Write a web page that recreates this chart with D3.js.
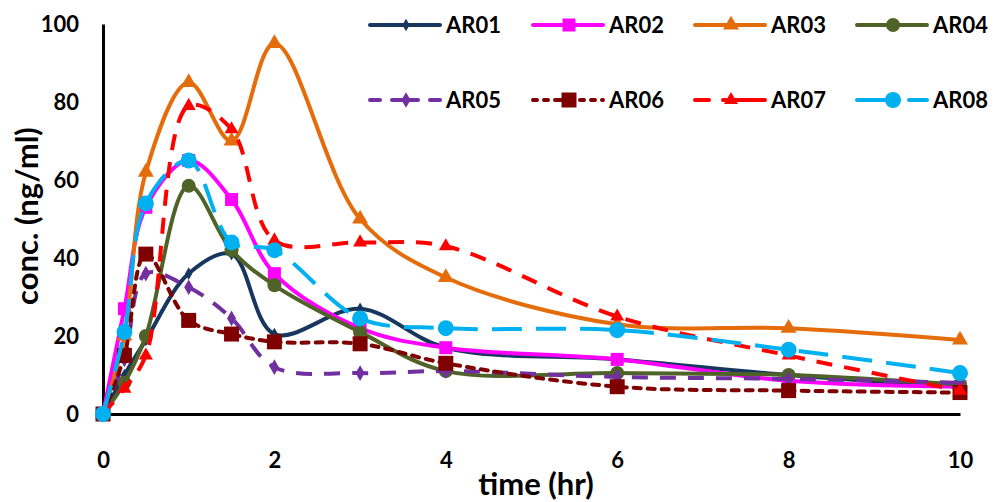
<!DOCTYPE html>
<html>
<head>
<meta charset="utf-8">
<script src="https://cdn.jsdelivr.net/npm/d3@7"></script>
<style>
  body { margin: 0; background: #fff; }
  svg text { font-family: Lato, "Open Sans", sans-serif; font-weight: bold; fill: #000; }
</style>
</head>
<body>
<div id="chart"></div>
<script>
// sampling times (hr)
const times = [0, 0.25, 0.5, 1, 1.5, 2, 3, 4, 6, 8, 10];

// concentrations (ng/ml)
const ar01 = [0, 10, 19, 36, 41, 20.5, 27, 17, 14, 10, 7];
const ar02 = [0, 27, 53, 65, 55, 36, 22, 17, 14, 8.5, 7];
const ar03 = [0, 20, 62, 85, 70, 95, 50, 35, 23, 22, 19];
const ar04 = [0, 8, 20, 58.5, 42, 33, 21, 11, 10.5, 10, 7.5];
const ar05 = [0, 14, 36, 32.5, 24.5, 12, 10.5, 11, 9.5, 9, 8];
const ar06 = [0, 15, 41, 24, 20.5, 18.5, 18, 13, 7, 6, 5.5];
const ar07 = [0, 6.5, 15, 79, 73, 44.5, 44, 43, 25, 15, 6];
const ar08 = [0, 21, 54, 65, 44, 42, 24.5, 22, 21.5, 16.5, 10.5];

const names = ['AR01', 'AR02', 'AR03', 'AR04', 'AR05', 'AR06', 'AR07', 'AR08'];
const xTicks = [0, 2, 4, 6, 8, 10];
const yTicks = [0, 20, 40, 60, 80, 100];

const series = [
  { name: 'AR01', values: ar01, color: '#17375E', marker: 'diamond', size: 12, dash: null, legDash: null },
  { name: 'AR02', values: ar02, color: '#FF00FF', marker: 'square', size: 13, dash: null, legDash: null },
  { name: 'AR03', values: ar03, color: '#E46C0A', marker: 'triangle', size: 16, dash: null, legDash: null },
  { name: 'AR04', values: ar04, color: '#4F6228', marker: 'circle', size: 14, dash: null, legDash: null },
  { name: 'AR05', values: ar05, color: '#7030A0', marker: 'diamond', size: 15, dash: '16,12', legDash: '10,12,26,12,10' },
  { name: 'AR06', values: ar06, color: '#7F0000', marker: 'square', size: 15, dash: '7,7', legDash: '4,7,4,7,18,7,4,7,4,7' },
  { name: 'AR07', values: ar07, color: '#FF0000', marker: 'triangle', size: 14, dash: '16,12', legDash: '14,14,42' },
  { name: 'AR08', values: ar08, color: '#00B0F0', marker: 'circle', size: 16, dash: '30,14', legDash: '40,12,18' }
];

const W = 996, H = 502;
const margin = { top: 24, right: 36, bottom: 88, left: 103 };
const width = W - margin.left - margin.right;
const height = H - margin.top - margin.bottom;

const svg = d3.select('#chart').append('svg')
  .attr('width', W)
  .attr('height', H);

const g = svg.append('g')
  .attr('transform', `translate(${margin.left},${margin.top})`);

const x = d3.scaleLinear().domain([0, 10]).range([0, width]);
const y = d3.scaleLinear().domain([0, 100]).range([height, 0]);

// axes (no tick marks, just labels)
const xAxis = g.append('g')
  .attr('transform', `translate(0,${height})`)
  .call(d3.axisBottom(x).tickValues(xTicks).tickSize(0).tickPadding(38));
xAxis.select('.domain').attr('stroke', '#000').attr('stroke-width', 3);
xAxis.selectAll('text').style('font-size', '22px');

const yAxis = g.append('g')
  .call(d3.axisLeft(y).tickValues(yTicks).tickSize(0).tickPadding(24));
yAxis.select('.domain').attr('stroke', '#000').attr('stroke-width', 3);
yAxis.selectAll('text').style('font-size', '22px');

// axis titles
svg.append('text')
  .attr('x', 536)
  .attr('y', 495)
  .attr('text-anchor', 'middle')
  .style('font-size', '31px')
  .text('time (hr)');

svg.append('text')
  .attr('transform', 'translate(38,216) rotate(-90)')
  .attr('text-anchor', 'middle')
  .style('font-size', '31px')
  .text('conc. (ng/ml)');

const symbolFor = m => ({
  diamond: d3.symbolDiamond,
  square: d3.symbolSquare,
  triangle: d3.symbolTriangle,
  circle: d3.symbolCircle
})[m];

// symbol area so that the marker's width is roughly `size` px
function symArea(m, s) {
  if (m === 'square') return s * s;
  if (m === 'circle') return Math.PI * (s / 2) * (s / 2);
  if (m === 'diamond') return s * s / (2 * Math.sqrt(3)) * 1.1;
  return s * s * Math.sqrt(3) / 4;
}

const line = d3.line()
  .x(d => x(d.t))
  .y(d => y(d.v))
  .curve(d3.curveCatmullRom.alpha(0.5));

series.forEach(s => {
  const pts = times.map((t, i) => ({ t, v: s.values[i] }));
  const sg = g.append('g').attr('class', 'series');

  sg.append('path')
    .datum(pts)
    .attr('fill', 'none')
    .attr('stroke', s.color)
    .attr('stroke-width', 4)
    .attr('stroke-linecap', s.dash === '7,7' ? 'round' : 'butt')
    .attr('stroke-dasharray', s.dash)
    .attr('d', line);

  sg.selectAll('path.mk')
    .data(pts)
    .enter()
    .append('path')
    .attr('class', 'mk')
    .attr('transform', d => `translate(${x(d.t)},${y(d.v)})`)
    .attr('d', d3.symbol().type(symbolFor(s.marker)).size(symArea(s.marker, s.size)))
    .attr('fill', s.color);
});

// legend: 4 columns x 2 rows
const legX = [370, 533, 695, 857];
const legY = [25, 100];
const legend = svg.append('g');
series.forEach((s, i) => {
  const lx = legX[i % 4];
  const ly = legY[Math.floor(i / 4)];
  const lg = legend.append('g').attr('transform', `translate(${lx},${ly})`);
  lg.append('line')
    .attr('x1', 0).attr('x2', 70)
    .attr('y1', 0).attr('y2', 0)
    .attr('stroke', s.color)
    .attr('stroke-width', 4)
    .attr('stroke-linecap', 'round')
    .attr('stroke-dasharray', s.legDash);
  lg.append('path')
    .attr('transform', 'translate(36,0)')
    .attr('d', d3.symbol().type(symbolFor(s.marker)).size(symArea(s.marker, s.size)))
    .attr('fill', s.color);
  lg.append('text')
    .attr('x', 76)
    .attr('y', 8)
    .style('font-size', '22px')
    .text(names[i]);
});
</script>
</body>
</html>
